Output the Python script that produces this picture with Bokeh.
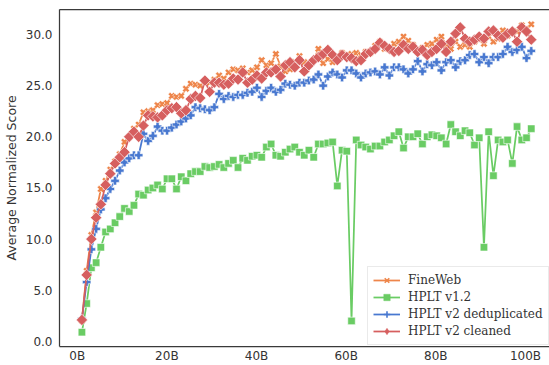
import math
from bokeh.plotting import figure
from bokeh.models import (Range1d, FixedTicker, PrintfTickFormatter, Legend, LegendItem,
                          LinearAxis)
from bokeh.embed import file_html
from bokeh.resources import INLINE

# Training tokens (billions) at each checkpoint
tokens_b = [1.05, 2.11, 3.16, 4.22, 5.27, 6.33, 7.38, 8.44, 9.49, 10.55, 11.60, 12.66, 13.71, 14.77,
            15.82, 16.88, 17.93, 18.99, 20.04, 21.10, 22.15, 23.21, 24.26, 25.32, 26.37, 27.43, 28.48,
            29.54, 30.59, 31.65, 32.70, 33.76, 34.81, 35.87, 36.92, 37.98, 39.03, 40.09, 41.14, 42.20,
            43.25, 44.31, 45.36, 46.42, 47.47, 48.53, 49.58, 50.64, 51.69, 52.75, 53.80, 54.86, 55.91,
            56.97, 58.02, 59.08, 60.13, 61.19, 62.24, 63.30, 64.35, 65.41, 66.46, 67.52, 68.57, 69.63,
            70.68, 71.74, 72.79, 73.85, 74.90, 75.96, 77.01, 78.07, 79.12, 80.18, 81.23, 82.29, 83.34,
            84.40, 85.45, 86.51, 87.56, 88.62, 89.67, 90.73, 91.78, 92.84, 93.89, 94.95, 96.00, 97.06,
            98.11, 99.17, 100.22, 101.28]

fineweb = [2.0, 6.9, 10.4, 12.6, 14.9, 15.7, 16.8, 17.6, 18.3, 19.5, 20.0, 20.8, 21.2, 22.4, 22.5,
           22.6, 23.1, 23.2, 23.3, 24.0, 23.9, 24.0, 24.7, 25.2, 25.1, 25.0, 25.4, 25.3, 25.6, 26.0,
           25.7, 26.3, 26.6, 26.5, 26.7, 26.3, 26.5, 26.8, 27.5, 27.0, 27.2, 28.1, 26.9, 26.4, 26.6,
           27.3, 27.9, 27.3, 27.0, 27.5, 28.6, 27.2, 27.6, 27.3, 27.9, 28.2, 28.0, 28.1, 28.2, 28.0,
           28.3, 28.2, 28.9, 29.3, 28.6, 28.7, 29.1, 29.3, 29.8, 29.4, 29.0, 28.3, 28.7, 29.0, 29.1,
           29.5, 29.8, 29.0, 28.6, 29.3, 28.8, 29.0, 28.8, 29.3, 29.5, 29.1, 29.8, 29.3, 29.6, 30.4,
           29.9, 30.2, 30.3, 30.9, 30.6, 31.0]

hplt_v12 = [0.9, 3.7, 7.2, 7.7, 9.2, 10.7, 11.0, 11.6, 12.2, 13.0, 12.7, 13.3, 14.4, 14.3, 14.8,
            15.0, 15.3, 14.9, 15.9, 15.9, 14.9, 16.1, 15.7, 16.4, 16.6, 16.6, 17.1, 17.0, 17.1, 17.3,
            17.0, 17.4, 17.7, 17.0, 17.9, 17.7, 18.1, 18.2, 18.0, 19.0, 19.3, 18.2, 18.1, 18.5, 18.8,
            19.0, 18.5, 18.2, 18.7, 18.0, 19.3, 19.3, 19.4, 19.5, 15.2, 18.7, 18.6, 2.0, 19.7, 19.2,
            19.0, 18.8, 19.1, 19.1, 19.5, 19.7, 20.1, 20.5, 18.9, 20.0, 20.0, 20.3, 19.3, 20.0, 20.2,
            20.1, 19.9, 19.3, 21.2, 20.5, 20.1, 20.6, 20.4, 19.2, 19.9, 9.2, 20.5, 16.2, 19.7, 19.5,
            19.7, 17.4, 21.0, 19.7, 19.9, 20.8]

hplt_v2_dedup = [2.2, 5.8, 9.0, 11.0, 12.9, 14.0, 14.9, 15.7, 16.7, 17.5, 17.9, 18.2, 18.2, 20.3, 19.6,
                 20.1, 21.0, 20.6, 20.6, 20.9, 21.2, 21.5, 21.8, 22.1, 22.9, 22.8, 22.7, 22.6, 22.9, 24.2,
                 23.7, 24.0, 23.9, 24.1, 24.1, 24.3, 24.4, 24.8, 23.9, 24.5, 24.8, 24.4, 24.6, 25.2, 25.1,
                 25.0, 25.3, 25.3, 25.5, 25.6, 26.1, 25.0, 25.9, 26.3, 26.1, 25.8, 26.5, 26.5, 26.2, 25.8,
                 26.2, 26.3, 26.4, 26.1, 26.8, 26.0, 26.8, 26.8, 26.6, 26.2, 26.6, 27.4, 26.4, 27.1, 27.0,
                 27.3, 26.5, 27.3, 27.5, 26.8, 27.4, 27.5, 28.0, 28.1, 27.3, 27.8, 27.2, 27.8, 27.8, 28.1,
                 28.8, 28.3, 28.5, 28.8, 27.7, 28.4]

hplt_v2_clean = [2.1, 6.5, 10.0, 12.1, 13.4, 15.3, 16.4, 17.4, 18.0, 18.5, 20.0, 20.5, 20.0, 21.1, 22.1,
                 22.0, 21.9, 22.1, 22.6, 22.8, 22.9, 22.3, 22.6, 23.7, 24.0, 23.8, 25.5, 24.4, 25.3, 25.3,
                 25.1, 25.2, 25.7, 25.6, 26.3, 25.3, 25.6, 26.0, 25.7, 26.3, 26.3, 26.6, 25.9, 27.0, 27.3,
                 26.8, 27.5, 26.4, 27.0, 27.5, 27.8, 28.1, 28.5, 28.0, 27.5, 28.0, 27.8, 27.7, 27.4, 27.5,
                 28.1, 28.3, 28.6, 29.2, 28.9, 28.6, 28.3, 28.4, 29.0, 28.6, 28.8, 28.3, 28.5, 28.0, 28.3,
                 28.6, 29.1, 28.3, 29.3, 30.1, 30.7, 29.6, 29.3, 29.5, 29.8, 29.6, 30.3, 30.4, 29.9, 29.7,
                 30.1, 30.3, 29.3, 30.7, 30.3, 29.5]

series_names = ["FineWeb", "HPLT v1.2", "HPLT v2 deduplicated", "HPLT v2 cleaned"]
x_ticks = [0, 20, 40, 60, 80, 100]
y_ticks = [0, 5, 10, 15, 20, 25, 30]
y_label = "Average Normalized Score"

TEXT = "#333333"
AXIS = "#3a3a3a"

p = figure(width=549, height=365, output_backend="svg", toolbar_location=None,
           x_range=Range1d(-3.95, 105.35), y_range=Range1d(-0.5, 32.45),
           min_border_left=59, min_border_right=0, min_border_top=9, min_border_bottom=19)
p.outline_line_color = None
p.xgrid.grid_line_color = None
p.ygrid.grid_line_color = None
p.background_fill_color = "white"
p.border_fill_color = "white"

for ax in (p.xaxis[0], p.yaxis[0]):
    ax.axis_line_color = AXIS
    ax.axis_line_width = 1.25
    ax.major_tick_line_color = None
    ax.minor_tick_line_color = None
    ax.major_tick_out = 0
    ax.major_tick_in = 0
    ax.minor_tick_out = 0
    ax.minor_tick_in = 0
    ax.major_label_text_font = "DejaVu Sans"
    ax.major_label_text_font_size = "12px"
    ax.major_label_text_color = TEXT

p.xaxis.ticker = FixedTicker(ticks=x_ticks)
p.xaxis.formatter = PrintfTickFormatter(format="%dB")
p.xaxis.major_label_standoff = 2
p.yaxis.ticker = FixedTicker(ticks=y_ticks)
p.yaxis.formatter = PrintfTickFormatter(format="%.1f")
p.yaxis.major_label_standoff = 7
p.yaxis.axis_label = y_label
p.yaxis.axis_label_text_font = "DejaVu Sans"
p.yaxis.axis_label_text_font_size = "12.5px"
p.yaxis.axis_label_text_font_style = "normal"
p.yaxis.axis_label_text_color = TEXT
p.yaxis.axis_label_standoff = 4

top_axis = LinearAxis(ticker=FixedTicker(ticks=[]), axis_line_color=AXIS, axis_line_width=1.25,
                      major_tick_line_color=None, minor_tick_line_color=None,
                      major_tick_out=0, major_tick_in=0, minor_tick_out=0, minor_tick_in=0,
                      major_label_text_font_size="0px", major_label_standoff=0)
p.add_layout(top_axis, "above")

colors = ["#ee854a", "#6acc64", "#4878d0", "#d65f5f"]
plot_markers = [("plus", 7.5, math.pi / 4), ("square", 7.5, 0.0),
                ("plus", 8.5, 0.0), ("square", 8.0, math.pi / 4)]
legend_markers = ["x", "square", "cross", "diamond"]
all_series = [fineweb, hplt_v12, hplt_v2_dedup, hplt_v2_clean]

items = []
for name, ys, color, (mk, size, angle), lmk in zip(series_names, all_series, colors,
                                                   plot_markers, legend_markers):
    ln = p.line(tokens_b, ys, line_color=color, line_width=1.75)
    p.scatter(tokens_b, ys, marker=mk, size=size, angle=angle,
              fill_color=color, line_color="white", line_width=0.6)
    # legend-only glyph (placed far outside the visible range)
    if lmk in ("x", "cross"):
        lg = p.scatter([-1000], [-1000], marker=lmk, size=7, line_color=color, line_width=1.6)
    else:
        lg = p.scatter([-1000], [-1000], marker=lmk, size=7, fill_color=color,
                       line_color=color, line_width=0.5)
    items.append(LegendItem(label=name, renderers=[ln, lg]))

legend = Legend(items=items, location=(308, 1),
                label_text_font="DejaVu Serif", label_text_font_size="12px",
                label_text_color=TEXT, glyph_width=27, glyph_height=16, label_height=16,
                label_standoff=8, padding=5, spacing=1, margin=0,
                border_line_color="#d5d5d5", border_line_width=1,
                background_fill_color="white", background_fill_alpha=0.8)
p.add_layout(legend)

open("out.html", "w").write(file_html(p, INLINE))
